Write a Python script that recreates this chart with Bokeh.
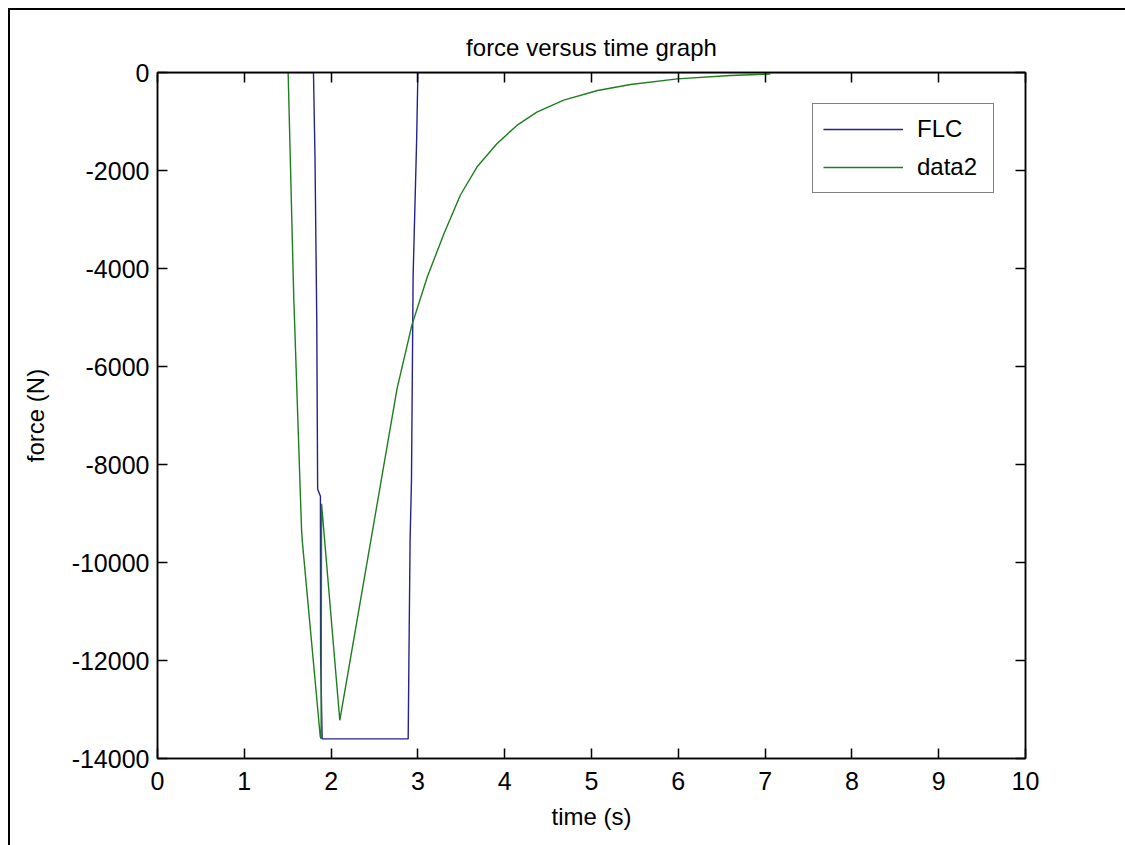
from bokeh.plotting import figure
from bokeh.models import LinearAxis, Range1d, FixedTicker, Legend, LegendItem
from bokeh.embed import file_html
from bokeh.resources import INLINE

# ---- data ----
flc_t = [0, 1.797, 1.815, 1.835, 1.845, 1.877, 1.879, 1.897, 2.888, 2.895, 2.91, 2.926, 2.945, 2.985, 3.0, 10]
flc_f = [0, 0, -1800, -5100, -8500, -8650, -11900, -13600, -13600, -12260, -9550, -8330, -4140, -1420, 0, 0]

data2_t = [1.505, 1.57, 1.66, 1.67, 1.875, 1.885, 1.89, 2.10, 2.57, 2.76, 2.93, 3.107, 3.30,
           3.49, 3.68, 3.91, 4.14, 4.37, 4.68, 5.07, 5.45, 5.99, 6.60, 7.06]
data2_f = [0, -4600, -9350, -9600, -13550, -13600, -8800, -13220, -8400, -6450, -5160, -4180, -3290,
           -2500, -1930, -1455, -1080, -810, -565, -367, -245, -130, -60, -30]

x_ticks = [0, 1, 2, 3, 4, 5, 6, 7, 8, 9, 10]
y_ticks = [-14000, -12000, -10000, -8000, -6000, -4000, -2000, 0]
y_tick_labels = {v: str(v) for v in y_ticks}

title_text = "force versus time graph"
x_label = "time (s)"
y_label = "force (N)"
series_names = ["FLC", "data2"]

FONT = "Liberation Sans"
FS = "24px"
TICK_FS = "25px"

p = figure(frame_width=868, frame_height=686,
           min_border_left=147, min_border_top=62, min_border_right=100, min_border_bottom=87,
           x_range=Range1d(0, 10), y_range=Range1d(-14000, 0),
           output_backend="svg", toolbar_location=None, title=title_text)
p.margin = (8, 0, 0, 8)
p.styles = {"border-top": "2px solid black", "border-left": "2px solid black"}

p.title.align = "center"
p.title.text_font = FONT
p.title.text_font_size = FS
p.title.text_font_style = "normal"
p.title.text_color = "black"
p.title.standoff = 24

p.xgrid.visible = False
p.ygrid.visible = False
p.outline_line_color = "black"
p.outline_line_width = 1.5
p.background_fill_color = "white"
p.border_fill_color = "white"

bottom = p.below[0]
left = p.left[0]
top = LinearAxis()
right = LinearAxis()
p.add_layout(top, "above")
p.add_layout(right, "right")

for ax in [bottom, top]:
    ax.ticker = FixedTicker(ticks=x_ticks)
for ax in [left, right]:
    ax.ticker = FixedTicker(ticks=y_ticks)

for ax in [bottom, top, left, right]:
    ax.axis_line_color = "black"
    ax.axis_line_width = 1.5
    ax.major_tick_line_color = "black"
    ax.major_tick_line_width = 1.5
    ax.major_tick_in = 10
    ax.major_tick_out = 0
    ax.minor_tick_line_color = None
    ax.major_label_text_font = FONT
    ax.major_label_text_font_size = TICK_FS
    ax.major_label_text_color = "black"
    ax.axis_label_text_font = FONT
    ax.axis_label_text_font_size = FS
    ax.axis_label_text_font_style = "normal"
    ax.axis_label_text_color = "black"

for ax in [top, right]:
    ax.major_label_text_font_size = "0px"
    ax.major_label_text_color = None
    ax.major_label_standoff = 0

left.major_label_overrides = y_tick_labels

bottom.axis_label = x_label
left.axis_label = y_label
bottom.major_label_standoff = 13
left.major_label_standoff = 8
bottom.axis_label_standoff = 10
left.axis_label_standoff = 20

r1 = p.line(flc_t, flc_f, line_color="#23238f", line_width=1.4)
r2 = p.line(data2_t, data2_f, line_color="#1e7d1e", line_width=1.4)

legend = Legend(items=[LegendItem(label=series_names[0], renderers=[r1]),
                       LegendItem(label=series_names[1], renderers=[r2])],
                location="top_right")
legend.margin = 31
legend.border_line_color = "black"
legend.border_line_width = 1.5
legend.background_fill_color = "white"
legend.background_fill_alpha = 1
legend.label_text_font = FONT
legend.label_text_font_size = FS
legend.label_text_color = "black"
legend.glyph_width = 80
legend.glyph_height = 30
legend.label_standoff = 14
legend.label_width = 66
legend.padding = 10
legend.spacing = 8
p.add_layout(legend)

open("out.html", "w").write(file_html(p, INLINE))
